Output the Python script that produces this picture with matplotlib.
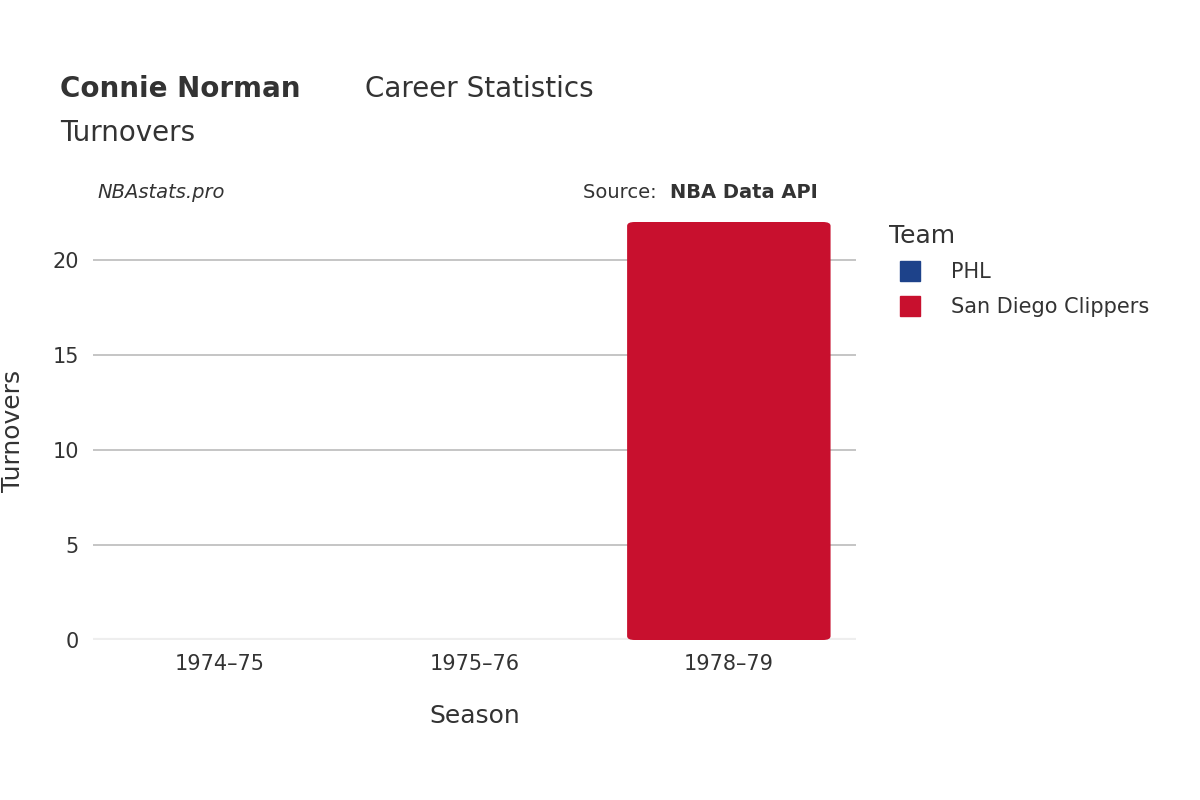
import matplotlib.pyplot as plt
from matplotlib.patches import FancyBboxPatch
from matplotlib.lines import Line2D

seasons = ["1974\u201375", "1975\u201376", "1978\u201379"]
teams = ["PHL", "San Diego Clippers"]
team_colors = ["#1d428a", "#c8102e"]
phl = [0, 0, 0]
sdc = [0, 0, 22]

fig = plt.figure(figsize=(12, 8), dpi=100)
ax = fig.add_axes([93 / 1200, 160 / 800, 763 / 1200, 418 / 800])
ax.set_xlim(-0.5, 2.5)
ax.set_ylim(0, 22)

for i, (a, b) in enumerate(zip(phl, sdc)):
    for val, col in ((a, team_colors[0]), (b, team_colors[1])):
        if val > 0:
            ax.add_patch(FancyBboxPatch((i - 0.4, 0), 0.8, val,
                                        boxstyle="round,pad=0,rounding_size=0.03",
                                        mutation_aspect=22 / 3 * 763 / 418 / 1.0 * 0.5,
                                        facecolor=col, edgecolor="none", zorder=3))

ax.set_yticks([0, 5, 10, 15, 20])
ax.grid(axis="y", color="#bbbbbb", linewidth=1.2, zorder=0)
ax.axhline(0, color="#eeeeee", linewidth=3, zorder=2)
ax.set_xticks(range(len(seasons)))
ax.set_xticklabels(seasons)
ax.tick_params(length=0, labelsize=15, labelcolor="#333333", pad=10)
for s in ax.spines.values():
    s.set_visible(False)
ax.set_xlabel("Season", fontsize=18, color="#333333", labelpad=22)
ax.set_ylabel("Turnovers", fontsize=18, color="#333333", labelpad=20)

fig.text(60 / 1200, 1 - 89 / 800, "Connie Norman", fontsize=20, fontweight="bold",
         color="#333333", va="center")
fig.text(365 / 1200, 1 - 89 / 800, "Career Statistics", fontsize=20,
         color="#333333", va="center")
fig.text(60 / 1200, 1 - 133 / 800, "Turnovers", fontsize=20, color="#333333", va="center")
fig.text(97 / 1200, 1 - 192 / 800, "NBAstats.pro", fontsize=14, style="italic",
         color="#333333", va="center")
fig.text(663 / 1200, 1 - 192 / 800, "Source: ", fontsize=14, color="#333333",
         va="center", ha="right")
fig.text(670 / 1200, 1 - 192 / 800, "NBA Data API", fontsize=14, fontweight="bold",
         color="#333333", va="center")

handles = [Line2D([], [], marker="s", linestyle="", markersize=15,
                  markerfacecolor=c, markeredgecolor=c) for c in team_colors]
leg = fig.legend(handles, teams, loc="upper left", bbox_to_anchor=(870 / 1200, 1 - 205 / 800),
                 frameon=False, fontsize=15, title="Team", title_fontsize=18,
                 labelspacing=0.7, handletextpad=1.0)
leg._legend_box.align = "left"
for t in leg.get_texts():
    t.set_color("#333333")
leg.get_title().set_color("#333333")

fig.savefig("out.png")
